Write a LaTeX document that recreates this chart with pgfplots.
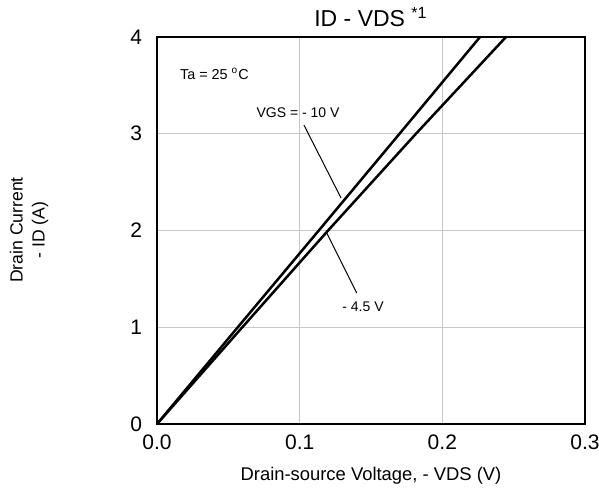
\documentclass[border=0pt]{standalone}
\usepackage{fontspec}
\setmainfont{Liberation Sans}
\usepackage{pgfplots}
\pgfplotsset{compat=1.18}
\begin{document}
\begin{tikzpicture}
\useasboundingbox (-78.5pt,-35.5pt) rectangle (221pt,212pt);
\begin{axis}[
  at={(0pt,0pt)}, anchor=south west,
  scale only axis, width=214pt, height=193.5pt,
  xmin=0, xmax=0.3, ymin=0, ymax=4,
  xtick={0,0.1,0.2,0.3}, ytick={0,1,2,3,4},
  xticklabel style={/pgf/number format/fixed, /pgf/number format/fixed zerofill, /pgf/number format/precision=1},
  /pgf/number format/assume math mode=true,
  tick label style={font=\fontsize{10.5}{12}\selectfont},
  xticklabel style={yshift=-2pt},
  yticklabel style={xshift=-4pt},
  major tick length=0pt,
  grid=major, grid style={line width=0.5pt, color=black!22},
  axis line style={line width=0.9pt},
  clip=true,
]
\addplot[line width=1.25pt, black] coordinates {(0,0) (0.0566,1) (0.1134,2) (0.1700,3) (0.2264,4) (0.2320,4.1)};
\addplot[line width=1.25pt, black] coordinates {(0,0) (0.0598,1) (0.1199,2) (0.1815,3) (0.2446,4) (0.2510,4.1)};
\draw[line width=0.5pt] (axis cs:0.103,3.09) -- (axis cs:0.129,2.336);
\draw[line width=0.5pt] (axis cs:0.119,1.974) -- (axis cs:0.140,1.354);
\end{axis}
\node[font=\fontsize{7.2}{8}\selectfont, anchor=west] at (8pt,175pt) {Ta = 25 \textsuperscript{o}C};
\node[font=\fontsize{7}{8}\selectfont] at (70.5pt,155.5pt) {VGS = - 10 V};
\node[font=\fontsize{7}{8}\selectfont] at (103pt,58.5pt) {- 4.5 V};
\node[font=\fontsize{11.5}{13}\selectfont] at (107pt,203.5pt) {ID - VDS \textsuperscript{*1}};
\node[font=\fontsize{9.2}{11}\selectfont] at (107pt,-26pt) {Drain-source Voltage, - VDS (V)};
\node[font=\fontsize{8.8}{11}\selectfont, rotate=90, align=center] at (-64pt,97pt) {Drain Current\\- ID (A)};
\end{tikzpicture}
\end{document}
